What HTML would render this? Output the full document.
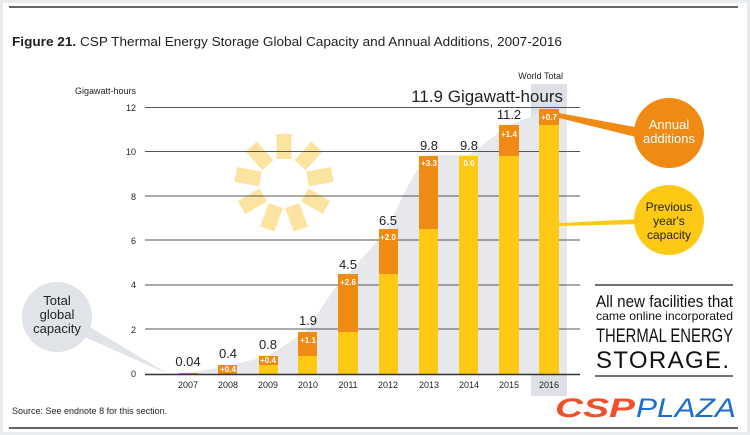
<!DOCTYPE html>
<html><head><meta charset="utf-8"><style>
body{margin:0;background:#e9ecef}
svg{display:block}
text{font-family:"Liberation Sans",sans-serif}
</style></head><body>
<svg width="750" height="435" viewBox="0 0 750 435">
<rect x="3" y="3" width="744" height="429" fill="#fff"/>
<line x1="9" y1="7" x2="738" y2="7" stroke="#333" stroke-width="1.5"/>
<line x1="9" y1="428" x2="738" y2="428" stroke="#333" stroke-width="1.5"/>
<text x="12" y="46" font-size="13" fill="#222" textLength="550" lengthAdjust="spacingAndGlyphs"><tspan font-weight="bold">Figure 21.</tspan> CSP Thermal Energy Storage Global Capacity and Annual Additions, 2007-2016</text>
<rect x="531" y="84" width="36" height="312" fill="#dde0e4"/>
<path d="M150,374 L188,373 L228,366 L268,356 L308,330 C320,310 335,285 348,274 L388,229 C400,200 415,170 428,155 L469,155 L509,125 L549,110 L567,108 L567,374 Z" fill="#e6e8eb"/>
<g fill="#fde3a0" transform="translate(284,183)">
<rect x="-7.5" y="-49" width="15" height="25" transform="rotate(0)"/>
<rect x="-7.5" y="-49" width="15" height="25" transform="rotate(42)"/>
<rect x="-7.5" y="-49" width="15" height="25" transform="rotate(80)"/>
<rect x="-7.5" y="-49" width="15" height="25" transform="rotate(120)"/>
<rect x="-7.5" y="-49" width="15" height="25" transform="rotate(160)"/>
<rect x="-7.5" y="-49" width="15" height="25" transform="rotate(200)"/>
<rect x="-7.5" y="-49" width="15" height="25" transform="rotate(240)"/>
<rect x="-7.5" y="-49" width="15" height="25" transform="rotate(280)"/>
<rect x="-7.5" y="-49" width="15" height="25" transform="rotate(318)"/>
</g>
<g stroke="#555" stroke-width="1">
<line x1="145" y1="107.5" x2="580" y2="107.5"/>
<line x1="145" y1="151.5" x2="580" y2="151.5"/>
<line x1="145" y1="196" x2="580" y2="196"/>
<line x1="145" y1="240" x2="580" y2="240"/>
<line x1="145" y1="285" x2="580" y2="285"/>
<line x1="145" y1="329" x2="580" y2="329"/>
</g>
<g font-size="9" fill="#222" text-anchor="end">
<text x="136" y="111">12</text><text x="136" y="155">10</text><text x="136" y="200">8</text>
<text x="136" y="244">6</text><text x="136" y="288">4</text><text x="136" y="333">2</text><text x="136" y="377">0</text>
<text x="136" y="94">Gigawatt-hours</text>
</g>
<g>
<rect x="179" y="373" width="19" height="1" fill="#ef8a12"/>
<rect x="218" y="365" width="19" height="9" fill="#ef8a12"/>
<rect x="259" y="365" width="19" height="9" fill="#fdc915"/><rect x="259" y="356" width="19" height="9" fill="#ef8a12"/>
<rect x="298" y="356" width="19" height="18" fill="#fdc915"/><rect x="298" y="332" width="19" height="24" fill="#ef8a12"/>
<rect x="338" y="332" width="20" height="42" fill="#fdc915"/><rect x="338" y="274" width="20" height="58" fill="#ef8a12"/>
<rect x="379" y="274" width="19" height="100" fill="#fdc915"/><rect x="379" y="229" width="19" height="45" fill="#ef8a12"/>
<rect x="419" y="229" width="19" height="145" fill="#fdc915"/><rect x="419" y="156" width="19" height="73" fill="#ef8a12"/>
<rect x="459" y="156" width="19" height="218" fill="#fdc915"/>
<rect x="499" y="156" width="20" height="218" fill="#fdc915"/><rect x="499" y="125" width="20" height="31" fill="#ef8a12"/>
<rect x="539" y="125" width="20" height="249" fill="#fdc915"/><rect x="539" y="109" width="20" height="16" fill="#ef8a12"/>
</g>
<g font-size="8" font-weight="bold" fill="#fff" text-anchor="middle">
<text x="228" y="372">+0.4</text><text x="268" y="363">+0.4</text><text x="308" y="343">+1.1</text>
<text x="348" y="285">+2.6</text><text x="388" y="240">+2.0</text><text x="429" y="166">+3.3</text>
<text x="469" y="166">0.0</text><text x="509" y="137">+1.4</text><text x="549" y="120">+0.7</text>
</g>
<line x1="145" y1="374.5" x2="580" y2="374.5" stroke="#333" stroke-width="1.5"/>
<g font-size="13" fill="#222" text-anchor="middle">
<text x="188" y="366">0.04</text><text x="228" y="358">0.4</text><text x="268" y="349">0.8</text>
<text x="308" y="325">1.9</text><text x="348" y="269">4.5</text><text x="388" y="225">6.5</text>
<text x="429" y="150">9.8</text><text x="469" y="150">9.8</text><text x="509" y="119">11.2</text>
</g>
<g font-size="9" fill="#222" text-anchor="middle">
<text x="188" y="388">2007</text><text x="228" y="388">2008</text><text x="268" y="388">2009</text>
<text x="308" y="388">2010</text><text x="348" y="388">2011</text><text x="388" y="388">2012</text>
<text x="429" y="388">2013</text><text x="469" y="388">2014</text><text x="509" y="388">2015</text><text x="549" y="388">2016</text>
</g>
<text x="563" y="79" font-size="9" fill="#222" text-anchor="end">World Total</text>
<text x="563" y="102" font-size="17" fill="#222" text-anchor="end">11.9 Gigawatt-hours</text>
<polygon points="559,118 559,113 640,128 640,138" fill="#ef8a12"/>
<circle cx="669" cy="133" r="35" fill="#ef8a12"/>
<text x="669" y="129" font-size="13" fill="#fff" text-anchor="middle">Annual</text>
<text x="669" y="143" font-size="13" fill="#fff" text-anchor="middle">additions</text>
<polygon points="559,223 559,226 640,224 640,219" fill="#fdc915"/>
<circle cx="669" cy="220" r="35" fill="#fdc915"/>
<text x="669" y="211" font-size="12" fill="#222" text-anchor="middle">Previous</text>
<text x="669" y="225" font-size="12" fill="#222" text-anchor="middle">year's</text>
<text x="669" y="239" font-size="12" fill="#222" text-anchor="middle">capacity</text>
<polygon points="80,335 88,326 168,374" fill="#e0e3e7"/>
<circle cx="57" cy="317" r="35" fill="#e0e3e7"/>
<text x="57" y="305" font-size="13" fill="#222" text-anchor="middle">Total</text>
<text x="57" y="319" font-size="13" fill="#222" text-anchor="middle">global</text>
<text x="57" y="333" font-size="13" fill="#222" text-anchor="middle">capacity</text>
<line x1="595" y1="285" x2="733" y2="285" stroke="#444" stroke-width="1.5"/>
<line x1="595" y1="376" x2="733" y2="376" stroke="#444" stroke-width="1.5"/>
<text x="596" y="307" font-size="17" fill="#111" textLength="137" lengthAdjust="spacingAndGlyphs">All new facilities that</text>
<text x="596" y="320" font-size="12" fill="#111" textLength="137" lengthAdjust="spacingAndGlyphs">came online incorporated</text>
<text x="596" y="342" font-size="19" fill="#111" textLength="137" lengthAdjust="spacingAndGlyphs">THERMAL ENERGY</text>
<text x="596" y="368" font-size="24" fill="#111" textLength="137" lengthAdjust="spacing" letter-spacing="4">STORAGE.</text>
<text x="12" y="414" font-size="9" fill="#222">Source: See endnote 8 for this section.</text>
<text x="555" y="417" font-size="27" font-weight="bold" font-style="italic" fill="#f0502a" textLength="80" lengthAdjust="spacingAndGlyphs">CSP</text>
<text x="636" y="417" font-size="27" font-style="italic" fill="#1a6fd0" textLength="100" lengthAdjust="spacingAndGlyphs">PLAZA</text>
</svg>
</body></html>
